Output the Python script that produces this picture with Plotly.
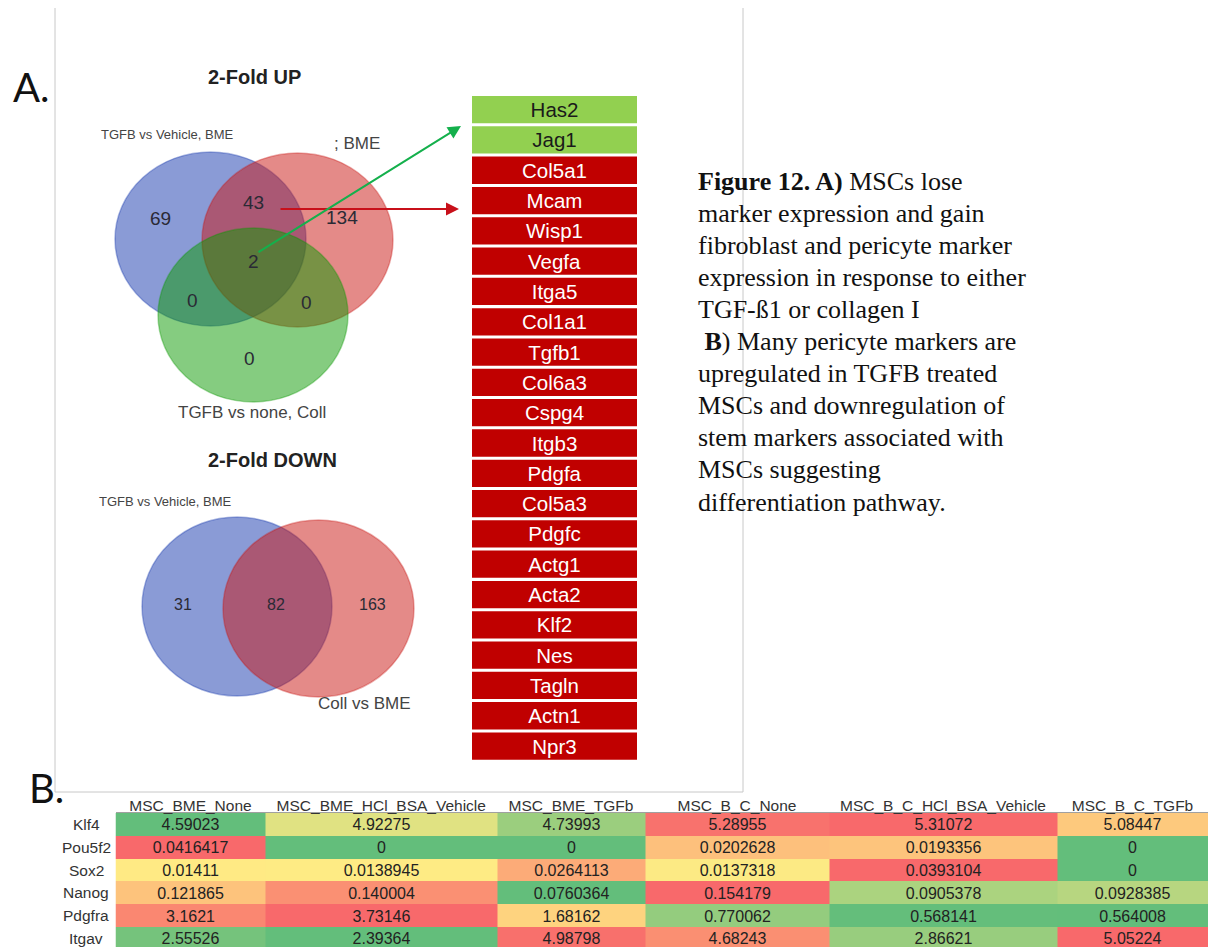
import numpy as np
import plotly.graph_objects as go

W, H = 1214, 947

# ---------------- data ----------------
# 2-fold UP Venn: region counts
up_labels = ["TGFB vs Vehicle, BME", "Coll vs BME", "TGFB vs none, Coll"]
up_only_tgfb_bme = 69
up_tgfb_bme_and_coll = 43
up_only_coll = 134
up_all_three = 2
up_tgfb_bme_and_tgfb_coll = 0
up_coll_and_tgfb_coll = 0
up_only_tgfb_coll = 0

# 2-fold DOWN Venn: region counts
down_labels = ["TGFB vs Vehicle, BME", "Coll vs BME"]
down_only_tgfb = 31
down_both = 82
down_only_coll = 163

# genes shared by all three comparisons / by TGFB and Coll on BME
shared_genes = ["Has2", "Jag1"]
overlap_genes = ["Col5a1", "Mcam", "Wisp1", "Vegfa", "Itga5", "Col1a1", "Tgfb1",
                 "Col6a3", "Cspg4", "Itgb3", "Pdgfa", "Col5a3", "Pdgfc", "Actg1",
                 "Acta2", "Klf2", "Nes", "Tagln", "Actn1", "Npr3"]

# expression table
conditions = ["MSC_BME_None", "MSC_BME_HCl_BSA_Vehicle", "MSC_BME_TGFb",
              "MSC_B_C_None", "MSC_B_C_HCl_BSA_Vehicle", "MSC_B_C_TGFb"]
markers = ["Klf4", "Pou5f2", "Sox2", "Nanog", "Pdgfra", "Itgav"]
klf4 = [4.59023, 4.92275, 4.73993, 5.28955, 5.31072, 5.08447]
pou5f2 = [0.0416417, 0, 0, 0.0202628, 0.0193356, 0]
sox2 = [0.01411, 0.0138945, 0.0264113, 0.0137318, 0.0393104, 0]
nanog = [0.121865, 0.140004, 0.0760364, 0.154179, 0.0905378, 0.0928385]
pdgfra = [3.1621, 3.73146, 1.68162, 0.770062, 0.568141, 0.564008]
itgav = [2.55526, 2.39364, 4.98798, 4.68243, 2.86621, 5.05224]

# ---------------- layout constants ----------------
SANS = "Liberation Sans"
SERIF = "Liberation Serif"
BLUE = "rgba(21,55,173,0.5)"
RED = "rgba(201,21,17,0.5)"
GREEN = "rgba(11,153,1,0.5)"
col_widths = [150, 231.5, 148, 184, 228, 151]
table_left, table_top, row_h = 115.5, 813, 22.8

fig = go.Figure()

# ---------------- gene list ----------------
genes = shared_genes + overlap_genes
bar_colors = ["#92d050"] * len(shared_genes) + ["#c00000"] * len(overlap_genes)
txt_colors = ["#1a1a1a"] * len(shared_genes) + ["#ffffff"] * len(overlap_genes)
fig.add_trace(go.Bar(
    x=[1] * len(genes), y=genes, orientation="h",
    marker=dict(color=bar_colors, line=dict(width=0)),
    text=genes, textposition="inside", insidetextanchor="middle",
    textfont=dict(family=SANS, size=20.5, color=txt_colors),
    xaxis="x2", yaxis="y2", hoverinfo="skip", showlegend=False,
))

# ---------------- expression heatmap (per-row 3-colour scale) ----------------
rows = [klf4, pou5f2, sox2, nanog, pdgfra, itgav]


def row_scale(vals):
    v = np.asarray(vals, dtype=float)
    lo, hi, mid = v.min(), v.max(), np.percentile(v, 50)
    out = []
    for x in v:
        if x <= mid:
            out.append(0.5 * (x - lo) / (mid - lo) if mid > lo else 0.0)
        else:
            out.append(0.5 + 0.5 * (x - mid) / (hi - mid) if hi > mid else 1.0)
    return out


z = [row_scale(r) for r in rows]
cell_text = [["%.6g" % x for x in r] for r in rows]
edges = np.concatenate([[0], np.cumsum(col_widths)])
centers = (edges[:-1] + edges[1:]) / 2

fig.add_trace(go.Heatmap(
    z=z, x=edges, y=list(range(len(markers))),
    colorscale=[[0, "#63BE7B"], [0.5, "#FFEB84"], [1, "#F8696B"]],
    zmin=0, zmax=1, showscale=False, xgap=0, ygap=0,
    text=cell_text, texttemplate="%{text}",
    textfont=dict(family=SANS, size=16, color="#222222"),
    xaxis="x3", yaxis="y3", hoverinfo="skip",
))

# ---------------- shapes ----------------
shapes = []


def ellipse(x0, y0, x1, y1, fill):
    line_col = fill.replace("0.5)", "0.35)")
    return dict(type="circle", xref="x", yref="y", x0=x0, y0=y0, x1=x1, y1=y1,
                fillcolor=fill, line=dict(color=line_col, width=1.5), layer="above")


shapes += [
    ellipse(115, 152, 306, 326, BLUE),
    ellipse(202, 153, 393, 327, RED),
    ellipse(158, 228, 348, 402, GREEN),
    ellipse(142, 517, 332, 696, BLUE),
    ellipse(223, 520, 414, 697, RED),
]
box_line = dict(color="#c8c8c8", width=1)
shapes += [
    dict(type="line", xref="x", yref="y", x0=55, y0=8, x1=55, y1=792, line=box_line),
    dict(type="line", xref="x", yref="y", x0=743, y0=8, x1=743, y1=792, line=box_line),
    dict(type="line", xref="x", yref="y", x0=55, y0=792, x1=743, y1=792, line=box_line),
]

# ---------------- annotations ----------------
ann = []


def text(x, y, s, size, family=SANS, color="#333333", xanchor="center", bold=False):
    if bold:
        s = "<b>" + s + "</b>"
    ann.append(dict(x=x, y=y, xref="x", yref="y", text=s, showarrow=False,
                    xanchor=xanchor, yanchor="middle",
                    font=dict(family=family, size=size, color=color)))


text(31, 87, "A.", 40, family="Lato", color="#111111")
text(46, 788, "B.", 40, family="Lato", color="#111111")

text(254, 77, "2-Fold UP", 20, color="#222222", bold=True)
text(167, 134, up_labels[0], 13, color="#444444")
text(357, 143, "; BME", 17, color="#444444")
text(252, 412, up_labels[2], 17, color="#444444")
for (x, y), n in zip([(160, 218), (253, 202), (342, 217), (253, 261),
                      (192, 300), (306, 302), (249, 358)],
                     [up_only_tgfb_bme, up_tgfb_bme_and_coll, up_only_coll, up_all_three,
                      up_tgfb_bme_and_tgfb_coll, up_coll_and_tgfb_coll, up_only_tgfb_coll]):
    text(x, y, str(n), 19, color="#2a2a35")

text(272, 460, "2-Fold DOWN", 20, color="#222222", bold=True)
text(165, 501, down_labels[0], 13, color="#444444")
text(364, 703, down_labels[1], 17, color="#444444")
for (x, y), n in zip([(183, 604), (276, 604), (372, 604)],
                     [down_only_tgfb, down_both, down_only_coll]):
    text(x, y, str(n), 16, color="#2a2a35")

# arrows from Venn regions to the gene list
ann.append(dict(x=459, y=209, ax=279, ay=209, xref="x", yref="y", axref="x", ayref="y",
                text="", showarrow=True, arrowhead=2, arrowsize=1.3, arrowwidth=2,
                arrowcolor="#c8101a"))
ann.append(dict(x=461, y=126, ax=257, ay=253, xref="x", yref="y", axref="x", ayref="y",
                text="", showarrow=True, arrowhead=2, arrowsize=1.3, arrowwidth=2,
                arrowcolor="#14b04c"))

# caption
caption = [
    "<b>Figure 12. A)</b> MSCs lose",
    "marker expression and gain",
    "fibroblast and pericyte marker",
    "expression in response to either",
    "TGF-\u00df1 or collagen I",
    "\u00a0<b>B</b>) Many pericyte markers are",
    "upregulated in TGFB treated",
    "MSCs and downregulation of",
    "stem markers associated with",
    "MSCs suggesting",
    "differentiation pathway.",
]
for i, line in enumerate(caption):
    text(696, 181 + 32.1 * i, line, 26, family=SERIF, color="#111111", xanchor="left")

# table row labels, centred in the label column
for i, m in enumerate(markers):
    ann.append(dict(x=86 / W, y=i, xref="paper", yref="y3", text=m, showarrow=False,
                    xanchor="center", yanchor="middle",
                    font=dict(family=SANS, size=15.5, color="#333333")))

fig.update_layout(
    width=W, height=H, margin=dict(l=0, r=0, t=0, b=0),
    paper_bgcolor="white", plot_bgcolor="rgba(0,0,0,0)",
    showlegend=False, bargap=0.1,
    uniformtext=dict(minsize=20, mode="show"),
    xaxis=dict(domain=[0, 1], range=[0, W], visible=False, fixedrange=True),
    yaxis=dict(domain=[0, 1], range=[H, 0], visible=False, fixedrange=True),
    xaxis2=dict(domain=[472 / W, 637 / W], range=[0, 1], visible=False, anchor="y2"),
    yaxis2=dict(domain=[1 - 761.2 / H, 1 - 94.5 / H], type="category",
                autorange="reversed", visible=False, anchor="x2"),
    xaxis3=dict(domain=[table_left / W, (table_left + edges[-1]) / W],
                range=[0, edges[-1]], side="top", anchor="y3",
                tickmode="array", tickvals=centers, ticktext=conditions,
                ticks="", showgrid=False, zeroline=False, ticklabelstandoff=-5,
                showline=True, linecolor="#a0a0a0", linewidth=1,
                tickfont=dict(family=SANS, size=15.5, color="#333333")),
    yaxis3=dict(domain=[0, 1 - table_top / H],
                range=[-0.5 + (H - table_top) / row_h, -0.5],
                visible=False, anchor="x3"),
    shapes=shapes, annotations=ann,
)

fig.write_html("out.html")
